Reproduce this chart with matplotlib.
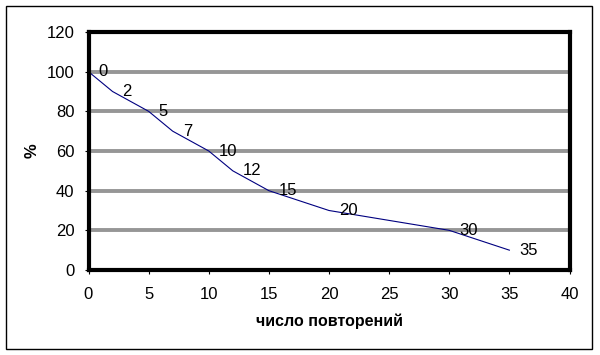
import matplotlib.pyplot as plt
from matplotlib.patches import Rectangle

# repetitions vs. percent retained
repetitions = [0, 2, 5, 7, 10, 12, 15, 20, 30, 35]
percent = [100, 90, 80, 70, 60, 50, 40, 30, 20, 10]
point_labels = ["0", "2", "5", "7", "10", "12", "15", "20", "30", "35"]

x_ticks = [0, 5, 10, 15, 20, 25, 30, 35, 40]
y_ticks = [0, 20, 40, 60, 80, 100, 120]

W, H = 600, 355


def _main():
    plt.rcParams["font.family"] = ["Liberation Sans", "DejaVu Sans"]
    fig = plt.figure(figsize=(W / 100, H / 100), dpi=100)
    left, right, top, bottom = 88.5, 569.5, 32, 270
    ax = fig.add_axes([left / W, 1 - bottom / H, (right - left) / W, (bottom - top) / H])

    for y in y_ticks[1:-1]:
        ax.axhline(y, color="#969696", lw=2.8, zorder=1)

    ax.plot(repetitions, percent, color="#000080", lw=0.8, zorder=3)
    for x, y, s in zip(repetitions, percent, point_labels):
        ax.annotate(s, (x, y), xytext=(10, 0), textcoords="offset pixels",
                    ha="left", va="center", fontsize=12, zorder=4)

    ax.set_xlim(0, 40)
    ax.set_ylim(0, 120)
    ax.set_xticks(x_ticks)
    ax.set_yticks(y_ticks)
    ax.tick_params(axis="both", direction="out", length=3, width=0.8, labelsize=12)
    ax.tick_params(axis="x", pad=9)
    ax.tick_params(axis="y", pad=7)
    for sp in ax.spines.values():
        sp.set_linewidth(3)
        sp.set_color("black")
        sp.set_zorder(5)

    fig.text(32 / W, 1 - 151 / H, "%", rotation=90, ha="center", va="center",
             fontsize=12, fontweight="bold")
    fig.text(329 / W, 1 - 321 / H, "число повторений", ha="center", va="center",
             fontsize=11.5, fontweight="bold")

    fig.patches.append(Rectangle((6 / W, 1 - 348.5 / H), 586 / W, 342.5 / H,
                                 transform=fig.transFigure, fill=False,
                                 edgecolor="black", lw=1))
    fig.savefig("out.png", dpi=100)


if __name__ == "__main__":
    _main()
